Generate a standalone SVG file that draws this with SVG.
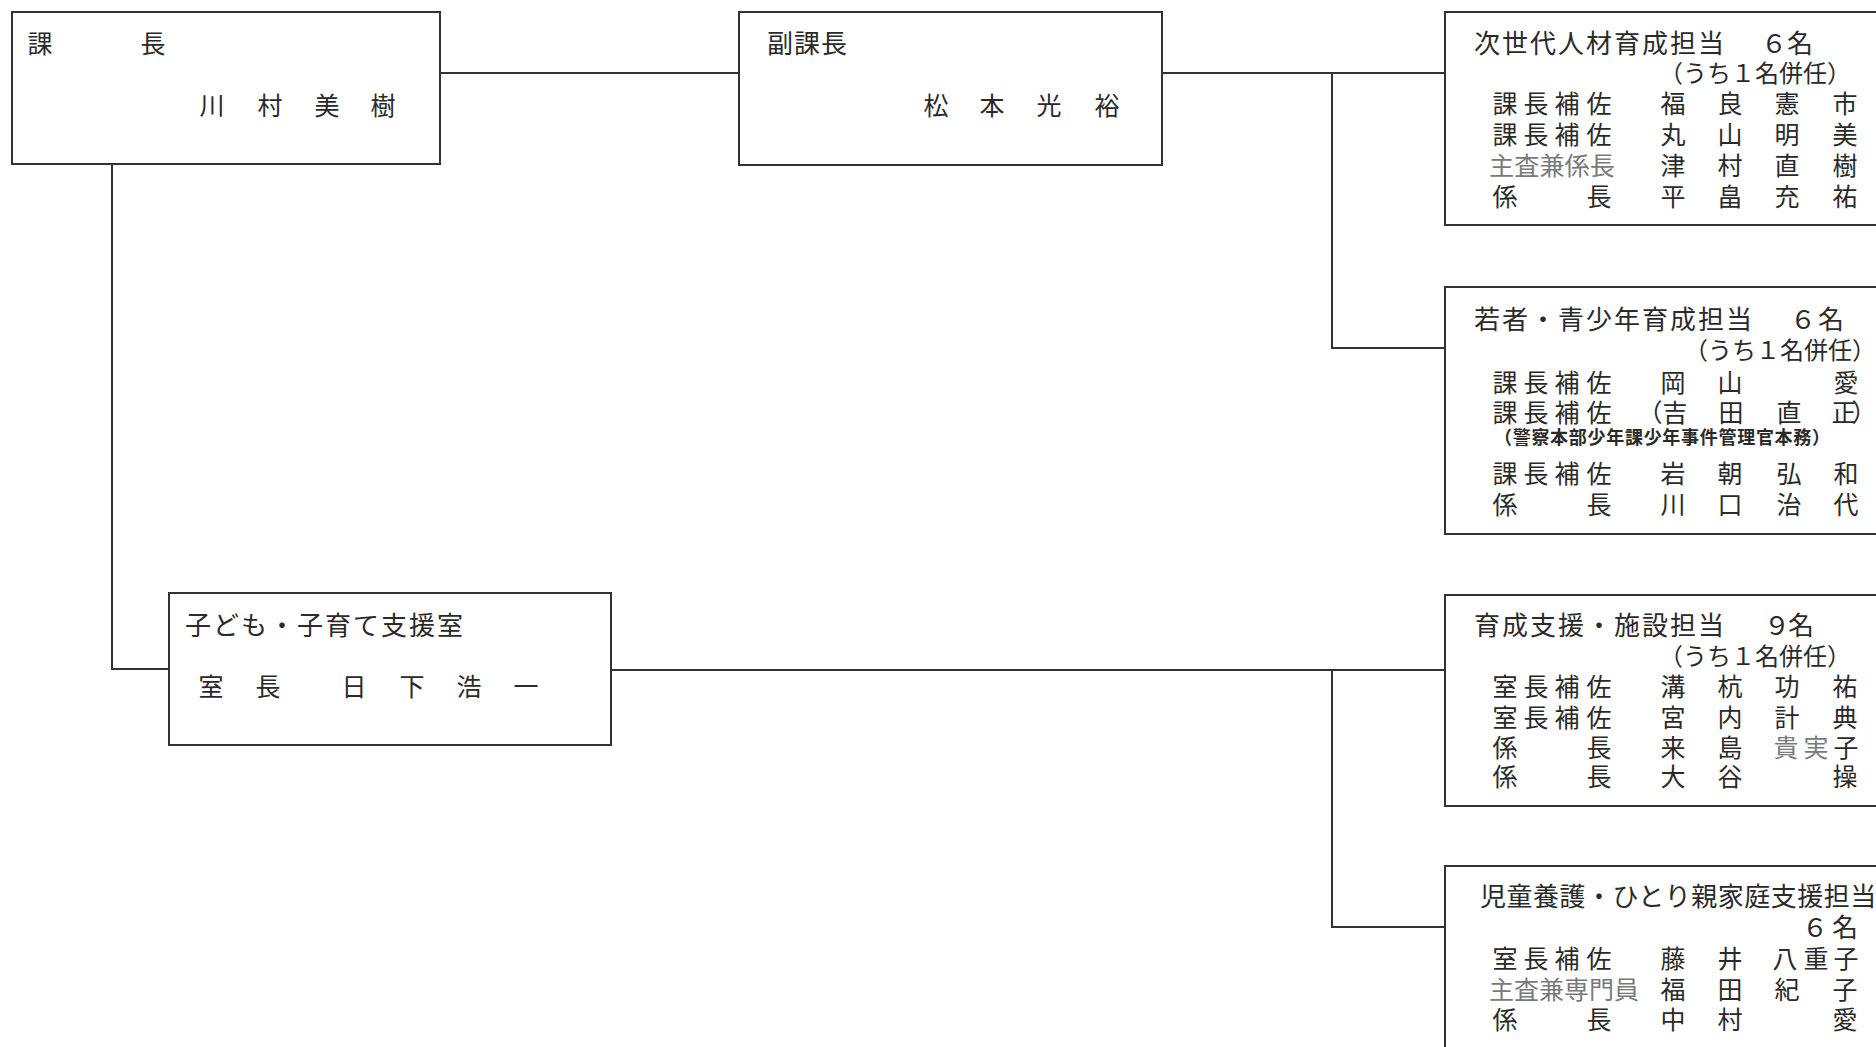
<svg xmlns="http://www.w3.org/2000/svg" width="1876" height="1047" viewBox="0 0 1876 1047">
<style>
.box{fill:#fff;stroke:#333;stroke-width:2}
.ln{fill:none;stroke:#333;stroke-width:2}
text{font-family:"Noto Sans CJK JP","Noto Sans CJK SC",sans-serif;fill:#2a2a2a;font-size:25px}
.c{text-anchor:middle}
.h{font-size:26px;letter-spacing:2px}
.p{font-size:24px}
.g{fill:#7a7a7a}
.s{font-size:18px;font-weight:700}
</style>
<rect width="1876" height="1047" fill="#fff"/>
<g id="connectors">
<path class="ln" d="M440 73H739"/>
<path class="ln" d="M1162 73H1445M1332 73V348H1445"/>
<path class="ln" d="M112 164V669H169"/>
<path class="ln" d="M611 670H1445M1332 670V927H1445"/>
</g>
<g id="kacho">
<rect class="box" x="12" y="12" width="428" height="152"/>
<text class="c" x="40 153" y="53">課長</text>
<text class="c" x="212 270 327 383" y="115">川村美樹</text>
</g>
<g id="fukukacho">
<rect class="box" x="739" y="12" width="423" height="153"/>
<text class="h" x="767" y="53" style="letter-spacing:1px">副課長</text>
<text class="c" x="936 992 1049 1107" y="115">松本光裕</text>
</g>
<g id="jisedai">
<rect class="box" x="1445" y="12" width="460" height="213"/>
<text class="h" x="1474" y="53">次世代人材育成担当</text>
<text class="c h" x="1774 1800" y="53" style="letter-spacing:0">６名</text>
<text class="p" x="1659" y="82">（うち１名併任）</text>
<text class="c" x="1505 1536 1567 1599 1673 1730 1787 1845" y="113">課長補佐福良憲市</text>
<text class="c" x="1505 1536 1567 1599 1673 1730 1787 1845" y="144">課長補佐丸山明美</text>
<text class="g" x="1489" y="175" textLength="126" lengthAdjust="spacingAndGlyphs" font-size="24">主査兼係長</text>
<text class="c" x="1673 1730 1787 1845" y="175">津村直樹</text>
<text class="c" x="1505 1599 1673 1730 1787 1845" y="206">係長平畠充祐</text>
</g>
<g id="wakamono">
<rect class="box" x="1445" y="287" width="460" height="247"/>
<text class="h" x="1474" y="329">若者・青少年育成担当</text>
<text class="c h" x="1803 1831" y="329" style="letter-spacing:0">６名</text>
<text class="p" x="1684" y="359">（うち１名併任）</text>
<text class="c" x="1505 1536 1567 1599 1673 1730 1846" y="392">課長補佐岡山愛</text>
<text class="c" x="1505 1536 1567 1599 1650 1675 1731 1789 1844 1864" y="422">課長補佐（吉田直正）</text>
<text class="s" x="1494" y="444" textLength="336" lengthAdjust="spacing">（警察本部少年課少年事件管理官本務）</text>
<text class="c" x="1505 1536 1567 1599 1673 1730 1789 1846" y="483">課長補佐岩朝弘和</text>
<text class="c" x="1505 1599 1673 1730 1789 1846" y="514">係長川口治代</text>
</g>
<g id="kodomo">
<rect class="box" x="169" y="593" width="442" height="152"/>
<text class="h" x="185" y="635">子ども・子育て支援室</text>
<text class="c" x="211 268 354 412 469 526" y="696">室長日下浩一</text>
</g>
<g id="ikusei">
<rect class="box" x="1445" y="595" width="460" height="211"/>
<text class="h" x="1474" y="635">育成支援・施設担当</text>
<text class="c h" x="1777 1801" y="635" style="letter-spacing:0">９名</text>
<text class="p" x="1659" y="665">（うち１名併任）</text>
<text class="c" x="1505 1536 1567 1599 1673 1730 1787 1845" y="696">室長補佐溝杭功祐</text>
<text class="c" x="1505 1536 1567 1599 1673 1730 1787 1845" y="727">室長補佐宮内計典</text>
<text class="c" x="1505 1599 1673 1730" y="757">係長来島</text>
<text class="c g" x="1786 1816" y="757">貴実</text>
<text class="c" x="1846" y="757">子</text>
<text class="c" x="1505 1599 1673 1730 1845" y="786">係長大谷操</text>
</g>
<g id="jido">
<rect class="box" x="1445" y="866" width="460" height="220"/>
<text class="h" x="1480" y="906" style="letter-spacing:0.5px">児童養護・ひとり親家庭支援担当</text>
<text class="c h" x="1815 1845" y="937" style="letter-spacing:0">６名</text>
<text class="c" x="1505 1536 1567 1599 1673 1730 1785 1816 1846" y="968">室長補佐藤井八重子</text>
<text class="g" x="1489" y="999" textLength="150" lengthAdjust="spacingAndGlyphs" font-size="24">主査兼専門員</text>
<text class="c" x="1673 1730 1787 1845" y="999">福田紀子</text>
<text class="c" x="1505 1599 1673 1730 1845" y="1029">係長中村愛</text>
</g>
</svg>
